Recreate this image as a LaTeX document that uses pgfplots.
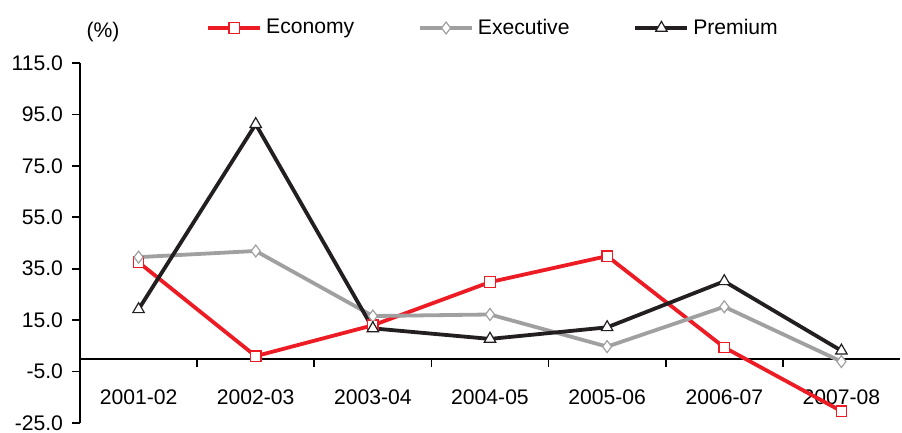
\documentclass[border=0pt]{standalone}
\usepackage{fontspec}
\setmainfont{Liberation Sans}
\usepackage{pgfplots}
\pgfplotsset{compat=1.18}
\definecolor{ecored}{RGB}{237,28,36}
\definecolor{exegray}{RGB}{160,160,160}
\definecolor{premblk}{RGB}{35,31,32}
\begin{document}
\begin{tikzpicture}
\path[use as bounding box] (-40bp,-5bp) rectangle (411bp,211.5bp);
\begin{axis}[
  width=410bp, height=180bp, scale only axis,
  xmin=-0.5, xmax=6.5, ymin=-25, ymax=115,
  axis x line=middle, axis y line=left,
  axis line style={-, line width=0.8bp, black},
  xtick={0,1,2,3,4,5,6},
  xticklabels={2001-02,2002-03,2003-04,2004-05,2005-06,2006-07,2007-08},
  minor xtick={0.5,1.5,2.5,3.5,4.5,5.5},
  x tick style={draw=none},
  minor x tick style={draw=black, line width=0.8bp},
  minor tick length=4bp,
  xtick align=outside,
  ytick={-25,-5,15,35,55,75,95,115},
  y tick style={draw=black, line width=0.8bp},
  major tick length=4bp,
  ytick align=outside,
  yticklabel style={/pgf/number format/fixed, /pgf/number format/fixed zerofill, /pgf/number format/precision=1, xshift=-1bp},
  /pgf/number format/assume math mode=true,
  xticklabel style={yshift=-8bp},
  tick label style={font=\fontsize{10.6}{12}\selectfont},
  clip=false,
  legend columns=3,
  legend style={at={(axis description cs:0.505,1)}, anchor=center, yshift=17.5bp, draw=none, fill=none, font=\fontsize{10.6}{12}\selectfont, inner sep=0pt},
  legend cell align=left,
  /tikz/every even column/.append style={column sep=30bp},
  legend image code/.code={\draw[mark repeat=2,mark phase=2] plot coordinates {(0bp,0bp) (13bp,0bp) (26bp,0bp)};},
]
\addplot[color=ecored, line width=1.9bp, mark=square*, mark size=2.6bp, mark options={fill=white, line width=0.6bp}]
 coordinates {(0,37.5) (1,1.0) (2,13.0) (3,29.8) (4,39.9) (5,4.4) (6,-20.4)};
\addlegendentry{Economy}
\addplot[color=exegray, line width=1.9bp, mark=diamond*, mark size=3bp, mark options={fill=white, line width=0.6bp}]
 coordinates {(0,39.5) (1,41.9) (2,16.6) (3,17.2) (4,4.7) (5,20.2) (6,-1.1)};
\addlegendentry{Executive}
\addplot[color=premblk, line width=1.9bp, mark=triangle*, mark size=3.3bp, mark options={fill=white, line width=0.6bp}]
 coordinates {(0,19.2) (1,91.2) (2,11.8) (3,7.7) (4,12.2) (5,30.1) (6,3.1)};
\addlegendentry{Premium}
\node[font=\fontsize{10.6}{12}\selectfont] at ([shift={(11.5bp,15.5bp)}]rel axis cs:0,1) {(\%)};
\end{axis}
\end{tikzpicture}
\end{document}
